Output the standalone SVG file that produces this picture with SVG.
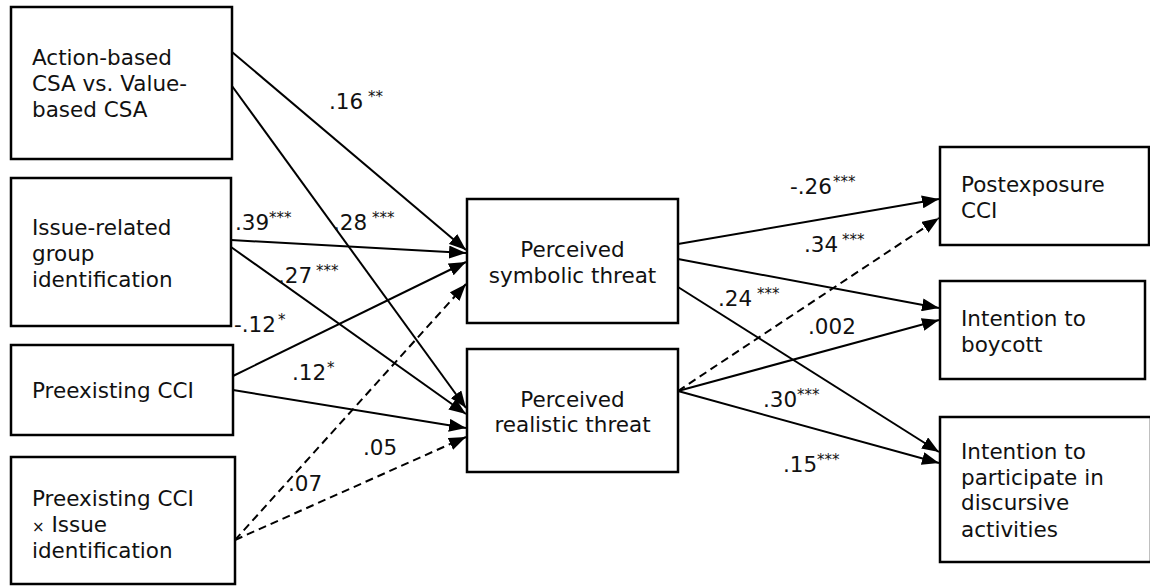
<svg xmlns="http://www.w3.org/2000/svg" width="1150" height="587" viewBox="0 0 1150 587">
<style>
.box{fill:#fff;stroke:#000;stroke-width:2.5}
.t{font-family:"DejaVu Sans",Verdana,sans-serif;font-size:21.5px;fill:#111}
.s{font-size:15px}
.c{stroke:#000;stroke-width:2;fill:none;marker-end:url(#ah)}
.d{stroke-dasharray:8 5}
</style>
<defs>
<marker id="ah" markerUnits="userSpaceOnUse" markerWidth="17" markerHeight="13" refX="17" refY="6.5" orient="auto">
<path d="M0,0 L17,6.5 L0,13 z" fill="#000"/>
</marker>
</defs>
<rect width="1150" height="587" fill="#fff"/>
<g id="connectors">
<line class="c" x1="232" y1="52" x2="466" y2="250"/>
<line class="c" x1="232" y1="86" x2="466" y2="408"/>
<line class="c" x1="231" y1="240" x2="466" y2="253"/>
<line class="c" x1="231" y1="247" x2="466" y2="414"/>
<line class="c" x1="233" y1="376" x2="466" y2="262"/>
<line class="c" x1="233" y1="390" x2="466" y2="428"/>
<line class="c d" x1="235" y1="540" x2="466" y2="284"/>
<line class="c d" x1="235" y1="540" x2="466" y2="437"/>
<line class="c" x1="678" y1="244" x2="939" y2="199"/>
<line class="c" x1="678" y1="259" x2="939" y2="308"/>
<line class="c" x1="678" y1="287" x2="939" y2="452"/>
<line class="c d" x1="678" y1="391" x2="939" y2="218"/>
<line class="c" x1="678" y1="391" x2="939" y2="320"/>
<line class="c" x1="678" y1="391" x2="939" y2="463"/>
</g>
<g id="labels" class="t">
<text x="329" y="109">.16<tspan class="s" x="368" dy="-7">**</tspan></text>
<text x="235" y="230">.39<tspan class="s" x="269" dy="-7">***</tspan></text>
<text x="333" y="230">.28<tspan class="s" x="372" dy="-7">***</tspan></text>
<text x="278" y="283">.27<tspan class="s" x="316" dy="-7">***</tspan></text>
<text x="234" y="332">-.12<tspan class="s" x="278" dy="-7">*</tspan></text>
<text x="292" y="380">.12<tspan class="s" x="327" dy="-7">*</tspan></text>
<text x="363" y="455">.05</text>
<text x="288" y="491">.07</text>
<text x="790" y="194">-.26<tspan class="s" x="833" dy="-7">***</tspan></text>
<text x="804" y="252">.34<tspan class="s" x="842" dy="-7">***</tspan></text>
<text x="718" y="306">.24<tspan class="s" x="757" dy="-7">***</tspan></text>
<text x="808" y="334">.002</text>
<text x="763" y="407">.30<tspan class="s" x="797" dy="-7">***</tspan></text>
<text x="783" y="472">.15<tspan class="s" x="817" dy="-7">***</tspan></text>
</g>
<g id="n-csa">
<rect class="box" x="11" y="7" width="221" height="152"/>
<text class="t" x="32" y="65">Action-based</text>
<text class="t" x="32" y="91">CSA vs. Value-</text>
<text class="t" x="32" y="117">based CSA</text>
</g>
<g id="n-issue">
<rect class="box" x="11" y="178" width="220" height="148"/>
<text class="t" x="32" y="235">Issue-related</text>
<text class="t" x="32" y="261">group</text>
<text class="t" x="32" y="287">identification</text>
</g>
<g id="n-pre">
<rect class="box" x="11" y="345" width="222" height="90"/>
<text class="t" x="32" y="398">Preexisting CCI</text>
</g>
<g id="n-inter">
<rect class="box" x="11" y="457" width="224" height="127"/>
<text class="t" x="32" y="506">Preexisting CCI</text>
<text class="t" x="32" y="532"><tspan font-size="15">×</tspan> Issue</text>
<text class="t" x="32" y="558">identification</text>
</g>
<g id="n-sym">
<rect class="box" x="467" y="199" width="211" height="124"/>
<text class="t" x="572.5" y="257" text-anchor="middle">Perceived</text>
<text class="t" x="572.5" y="283" text-anchor="middle">symbolic threat</text>
</g>
<g id="n-real">
<rect class="box" x="467" y="349" width="211" height="123"/>
<text class="t" x="572.5" y="407" text-anchor="middle">Perceived</text>
<text class="t" x="572.5" y="432" text-anchor="middle">realistic threat</text>
</g>
<g id="n-post">
<rect class="box" x="940" y="147" width="209" height="98"/>
<text class="t" x="961" y="192">Postexposure</text>
<text class="t" x="961" y="218">CCI</text>
</g>
<g id="n-boy">
<rect class="box" x="940" y="281" width="205" height="98"/>
<text class="t" x="961" y="326">Intention to</text>
<text class="t" x="961" y="352">boycott</text>
</g>
<g id="n-part">
<rect class="box" x="940" y="417" width="211" height="145"/>
<text class="t" x="961" y="459">Intention to</text>
<text class="t" x="961" y="485">participate in</text>
<text class="t" x="961" y="510">discursive</text>
<text class="t" x="961" y="537">activities</text>
</g>
</svg>
